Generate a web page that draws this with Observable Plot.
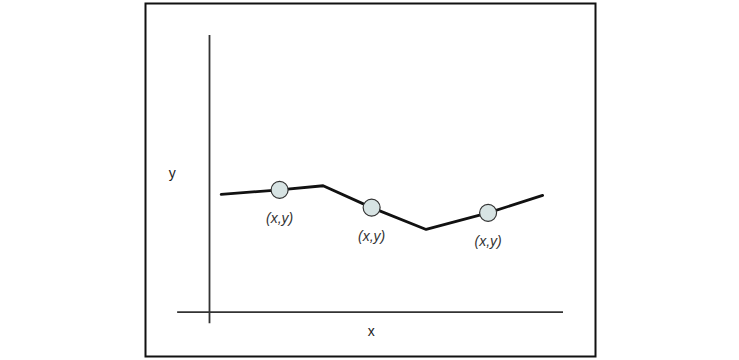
<!DOCTYPE html>
<html>
<head>
<meta charset="utf-8">
<script src="https://cdn.jsdelivr.net/npm/d3@7"></script>
<script src="https://cdn.jsdelivr.net/npm/@observablehq/plot@0.6"></script>
<style>
  html, body { margin: 0; padding: 0; background: #fff; }
  svg { display: block; }
</style>
</head>
<body>
<div id="chart"></div>
<script>
// Polyline vertices (abstract units: origin at the axes' crossing)
const lineX = [0.33, 1.98, 3.21, 4.58, 6.12, 7.87, 9.41];
const lineY = [4.26, 4.42, 4.57, 3.78, 2.99, 3.59, 4.22];
// Labelled points
const pointX = [1.98, 4.58, 7.87];
const pointY = [4.42, 3.78, 3.59];
const pointLabel = ["(x,y)", "(x,y)", "(x,y)"];
// Axis labels
const axisLabels = ["x", "y"];
const axisLabelX = [4.57, -1.05];
const axisLabelY = [-0.69, 5.01];

const line = lineX.map((x, i) => ({x, y: lineY[i]}));
const points = pointX.map((x, i) => ({x, y: pointY[i], label: pointLabel[i]}));
const labels = axisLabels.map((t, i) => ({t, x: axisLabelX[i], y: axisLabelY[i]}));

const chart = Plot.plot({
  width: 739,
  height: 360,
  marginLeft: 145,
  marginRight: 144,
  marginTop: 3,
  marginBottom: 4,
  style: {fontFamily: "Liberation Sans, Arial, sans-serif", background: "#fff"},
  x: {domain: [0, 10], range: [209, 563], axis: null},
  y: {domain: [0, 10], range: [311.7, 35], axis: null},
  marks: [
    Plot.frame({stroke: "#111", strokeWidth: 2}),
    Plot.ruleX([0], {y1: -0.42, y2: 10, stroke: "#333", strokeWidth: 1.8}),
    Plot.ruleY([0], {x1: -0.9, x2: 10, stroke: "#333", strokeWidth: 1.8}),
    Plot.line(line, {x: "x", y: "y", stroke: "#111", strokeWidth: 2.8}),
    Plot.dot(points, {x: "x", y: "y", r: 8.5, fill: "#d7e3e3", stroke: "#333", strokeWidth: 1.2}),
    Plot.text(points, {x: "x", y: "y", text: "label", dy: 29, fontSize: 14, fontStyle: "italic", fill: "#333"}),
    Plot.text(labels, {x: "x", y: "y", text: "t", fontSize: 14, fill: "#222"})
  ]
});
document.getElementById("chart").appendChild(chart);
</script>
</body>
</html>
